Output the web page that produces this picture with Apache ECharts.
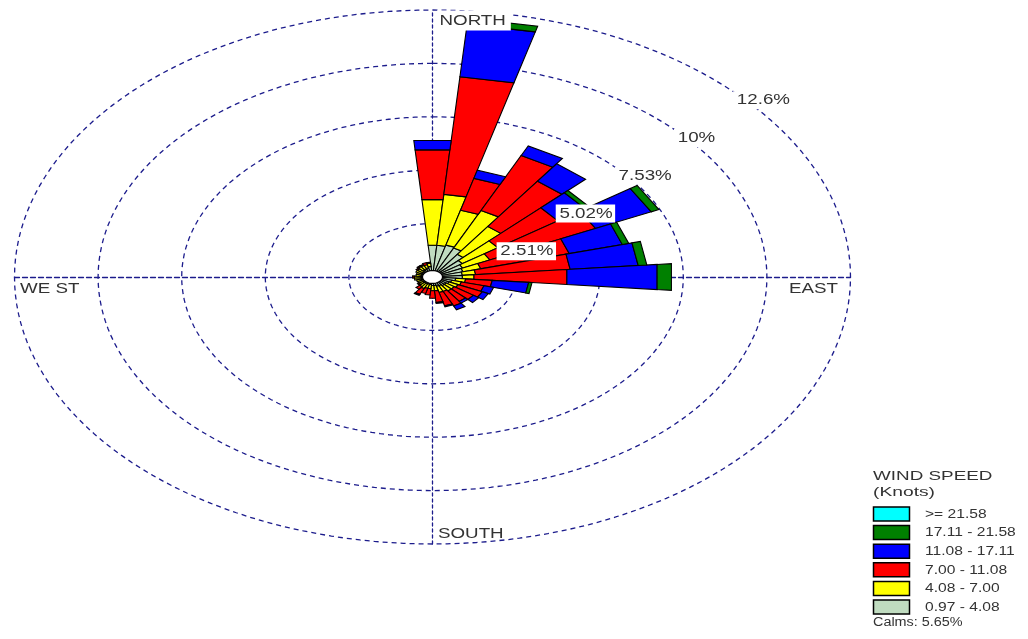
<!DOCTYPE html>
<html>
<head>
<meta charset="utf-8">
<script src="https://cdn.jsdelivr.net/npm/echarts@6/dist/echarts.min.js"></script>
<style>
html,body{margin:0;padding:0;background:#fff;}
#c{width:1028px;height:639px;}
</style>
</head>
<body>
<div id="c"></div>
<script>
// ---------------- DATA ----------------
const DIRECTIONS = [0,10,20,30,40,50,60,70,80,90,100,110,120,130,140,150,160,170,180,190,200,210,220,230,240,250,260,270,280,290,300,310,320,330,340,350];
const SPEED_CLASSES = ['0.97 - 4.08','4.08 - 7.00','7.00 - 11.08','11.08 - 17.11','17.11 - 21.58','>= 21.58'];
// frequency (%) per direction for each wind-speed class
const FREQ_0_97_4_08   = [1.50,1.50,1.55,1.50,1.30,1.10,1.00,0.95,0.90,0.90,0.70,0.60,0.55,0.50,0.50,0.45,0.45,0.40,0.40,0.35,0.35,0.35,0.35,0.35,0.30,0.35,0.35,0.35,0.35,0.35,0.35,0.35,0.40,0.40,0.45,0.50];
const FREQ_4_08_7_00   = [2.15,2.40,1.70,1.95,1.60,1.30,0.90,0.55,0.40,0.35,0.30,0.30,0.30,0.30,0.30,0.30,0.30,0.25,0.25,0.20,0.20,0.25,0.20,0.15,0.20,0.15,0.20,0.20,0.15,0.15,0.20,0.20,0.20,0.20,0.15,0.15];
const FREQ_7_00_11_08  = [2.35,5.55,1.55,2.85,2.60,2.20,3.50,2.75,2.85,2.80,0.80,0.70,0.80,0.70,0.60,0.75,0.65,0.55,0.35,0.30,0.25,0.30,0.15,0.05,0,0,0,0.05,0,0,0,0.05,0.05,0.05,0.10,0.05];
const FREQ_11_08_17_11 = [0.44,2.48,0.40,0.50,1.00,1.00,1.85,1.65,2.05,2.72,1.10,0.30,0.20,0.20,0.10,0.20,0.05,0.05,0,0,0,0.05,0,0,0,0,0,0,0,0,0,0,0,0,0,0];
const FREQ_17_11_21_58 = [0,0.27,0,0,0,0.15,0.25,0.20,0.26,0.43,0.10,0,0,0,0,0,0,0,0,0,0,0,0,0,0,0,0,0,0,0,0,0,0,0,0,0];
const FREQ_GE_21_58    = [0,0,0,0,0,0,0,0,0,0,0,0,0,0,0,0,0,0,0,0,0,0,0,0,0,0,0,0,0,0,0,0,0,0,0,0];
const RING_VALUES = [2.51,5.02,7.53,10.04,12.55];
const RING_LABELS = ['2.51%','5.02%','7.53%','10%','12.6%'];
const COMPASS_LABELS = ['NORTH','EAST','SOUTH','WE ST'];
const CALMS = 5.65;

// ---------------- STYLE ----------------
const CLASS_COLORS = ['#c0dcc0','#ffff00','#ff0000','#0000ff','#008000','#00ffff'];
const DASH_COLOR = '#1c1c8c';
const R_MAX = 12.55;
const SECTOR_HALF = 5;
const CALM_R = 0.3;
const FONT = '"Liberation Sans", Arial, sans-serif';
const TEXT_COLOR = '#333';

const FREQS = [FREQ_0_97_4_08, FREQ_4_08_7_00, FREQ_7_00_11_08, FREQ_11_08_17_11, FREQ_17_11_21_58, FREQ_GE_21_58];
const rad = a => a * Math.PI / 180;
const polarXY = (r, a) => [r * Math.sin(rad(a)), r * Math.cos(rad(a))];

const chart = echarts.init(document.getElementById('c'), null, {renderer: 'canvas'});

// stacked sectors
const cum = DIRECTIONS.map(() => 0);
const barSeries = FREQS.map((arr, k) => {
  const data = [];
  DIRECTIONS.forEach((d, i) => {
    const v = arr[i];
    if (v > 0) data.push([d, cum[i], cum[i] + v]);
    cum[i] += v;
  });
  return {
    type: 'custom', name: SPEED_CLASSES[k], coordinateSystem: 'cartesian2d',
    silent: true, z: 3, data,
    renderItem: (params, api) => {
      const a = api.value(0), r0 = api.value(1), r1 = api.value(2);
      const pts = [
        api.coord(polarXY(r0, a - SECTOR_HALF)),
        api.coord(polarXY(r1, a - SECTOR_HALF)),
        api.coord(polarXY(r1, a + SECTOR_HALF)),
        api.coord(polarXY(r0, a + SECTOR_HALF))
      ];
      return {type: 'polygon', shape: {points: pts},
        style: {fill: CLASS_COLORS[k], stroke: '#000', lineWidth: 1.1}};
    }
  };
});

const ringSeries = {
  type: 'custom', coordinateSystem: 'cartesian2d', silent: true, z: 1,
  data: RING_VALUES.map(v => [v]),
  renderItem: (params, api) => {
    const v = api.value(0); const pts = [];
    for (let a = 0; a <= 360; a += 2) pts.push(api.coord(polarXY(v, a)));
    return {type: 'polyline', shape: {points: pts},
      style: {stroke: DASH_COLOR, fill: null, lineWidth: 1.3, lineDash: [5, 4]}};
  }
};

const calmSeries = {
  type: 'custom', coordinateSystem: 'cartesian2d', silent: true, z: 6,
  data: [[CALMS]],
  renderItem: (params, api) => {
    const pts = [];
    for (let a = 0; a < 360; a += 10) pts.push(api.coord(polarXY(CALM_R, a)));
    return {type: 'polygon', shape: {points: pts}, style: {fill: '#fff', stroke: '#000', lineWidth: 1.2}};
  }
};

const axisCommon = {
  type: 'value', min: -R_MAX, max: R_MAX,
  axisTick: {show: false}, axisLabel: {show: false}, splitLine: {show: false}
};

chart.setOption({
  animation: false,
  backgroundColor: '#fff',
  grid: {left: 14.5, top: 10, width: 836, height: 534},
  xAxis: Object.assign({}, axisCommon, {axisLine: {onZero: true, lineStyle: {color: DASH_COLOR, width: 1.3, type: [5, 3]}}}),
  yAxis: Object.assign({}, axisCommon, {axisLine: {onZero: true, lineStyle: {color: DASH_COLOR, width: 1.3, type: [3, 3]}}}),
  series: [ringSeries].concat(barSeries).concat([calmSeries])
});

// ---------------- TEXT & LEGEND ----------------
const px = (xy) => chart.convertToPixel({gridIndex: 0}, xy);
function txt(text, x, y, o) {
  o = o || {};
  const st = {
    text, font: (o.size || 15) + 'px ' + FONT, fill: TEXT_COLOR,
    align: o.align || 'left', verticalAlign: 'middle',
    textAlign: o.align || 'left', textVerticalAlign: 'middle'
  };
  if (o.bg) { st.backgroundColor = '#fff'; st.padding = o.pad || [2, 3, 2, 2]; }
  return {type: 'text', x, y, scaleX: o.sx || 1.25, z: 100, silent: true, style: st};
}
const g = [];
const N = px([0, R_MAX]), E = px([R_MAX, 0]), S = px([0, -R_MAX]), W = px([-R_MAX, 0]);
g.push(txt(COMPASS_LABELS[0], N[0] + 4.5, N[1] + 10.5, {bg: true, pad: [3, 4, 2, 2]}));
g.push(txt(COMPASS_LABELS[1], E[0] - 12.5, E[1] + 11.5, {align: 'right'}));
g.push(txt(COMPASS_LABELS[2], S[0] + 5.5, S[1] - 10.5));
g.push(txt(COMPASS_LABELS[3], W[0] + 5.5, W[1] + 11.5));
RING_VALUES.forEach((v, i) => {
  const p = px(polarXY(v, 45));
  g.push(txt(RING_LABELS[i], p[0] + 5, p[1] + 12, {bg: true, pad: [2, 2, 1, 3]}));
});
// legend
const LX = 873, TX = 925;
g.push(txt('WIND SPEED', LX, 476.5, {size: 13, sx: 1.45}));
g.push(txt('(Knots)', LX, 492, {size: 13, sx: 1.48}));
const legendOrder = [5, 4, 3, 2, 1, 0];
legendOrder.forEach((k, j) => {
  const cy = 514 + j * 18.6;
  g.push({type: 'rect', z: 100, silent: true, shape: {x: LX + 0.5, y: cy - 7, width: 36, height: 14},
    style: {fill: CLASS_COLORS[k], stroke: '#000', lineWidth: 1.5}});
  g.push(txt(SPEED_CLASSES[k], TX, cy + 0.5, {size: 12, sx: 1.3}));
});
g.push(txt('Calms: ' + CALMS.toFixed(2) + '%', LX, 622.5, {size: 12, sx: 1.2}));

chart.setOption({graphic: {elements: g}});
</script>
</body>
</html>
